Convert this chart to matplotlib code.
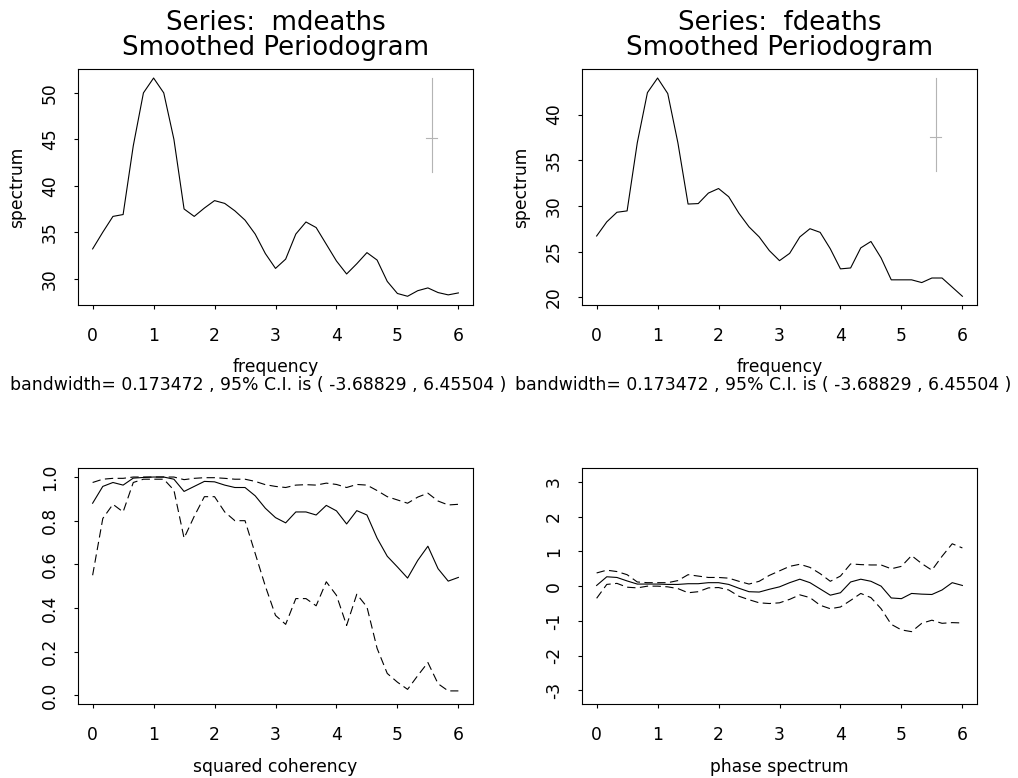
import matplotlib
matplotlib.use('Agg')
import matplotlib.pyplot as plt
import numpy as np

# frequencies k/6, k = 0..36
freq = np.arange(37) / 6.0

spec_m = [33.2, 35.0, 36.7, 36.9, 44.3, 50.0, 51.6, 50.0, 45.0, 37.5,
          36.7, 37.6, 38.4, 38.1, 37.3, 36.3, 34.8, 32.7, 31.1, 32.1,
          34.8, 36.1, 35.5, 33.7, 31.9, 30.5, 31.6, 32.8, 32.0, 29.7,
          28.4, 28.1, 28.7, 29.0, 28.5, 28.25, 28.46]
spec_f = [26.7, 28.25, 29.3, 29.45, 36.9, 42.4, 44.0, 42.3, 36.9, 30.2,
          30.25, 31.4, 31.9, 31.0, 29.2, 27.7, 26.6, 25.1, 24.0, 24.8,
          26.6, 27.5, 27.1, 25.3, 23.1, 23.2, 25.4, 26.1, 24.3, 21.9,
          21.9, 21.9, 21.6, 22.1, 22.1, 21.1, 20.1]

coh = [0.88, 0.957, 0.975, 0.963, 0.995, 0.998, 1.0, 1.0, 0.99, 0.934,
       0.957, 0.98, 0.978, 0.963, 0.952, 0.952, 0.914, 0.857, 0.814, 0.79,
       0.84, 0.84, 0.826, 0.87, 0.845, 0.785, 0.846, 0.826, 0.72, 0.637,
       0.588, 0.537, 0.618, 0.683, 0.58, 0.523, 0.54]
coh_hi = [0.975, 0.99, 0.994, 0.994, 1.0, 1.0, 1.0, 1.0, 1.0, 0.988,
          0.994, 0.997, 0.997, 0.994, 0.99, 0.99, 0.98, 0.965, 0.957, 0.952,
          0.963, 0.965, 0.963, 0.972, 0.966, 0.952, 0.966, 0.963, 0.938, 0.91,
          0.895, 0.88, 0.908, 0.926, 0.89, 0.872, 0.875]
coh_lo = [0.55, 0.81, 0.875, 0.84, 0.975, 0.99, 0.99, 0.99, 0.94, 0.72,
          0.82, 0.91, 0.91, 0.84, 0.8, 0.8, 0.65, 0.5, 0.366, 0.325,
          0.443, 0.443, 0.41, 0.52, 0.458, 0.32, 0.463, 0.405, 0.215, 0.1,
          0.06, 0.027, 0.09, 0.15, 0.053, 0.02, 0.02]

phase = [0.02, 0.27, 0.25, 0.15, 0.06, 0.06, 0.06, 0.05, 0.05, 0.07,
         0.07, 0.1, 0.1, 0.05, -0.06, -0.16, -0.17, -0.09, -0.02, 0.1,
         0.2, 0.1, -0.08, -0.26, -0.19, 0.12, 0.2, 0.14, 0.0, -0.34,
         -0.36, -0.21, -0.23, -0.24, -0.11, 0.1, 0.02]
phase_hi = [0.38, 0.46, 0.42, 0.33, 0.12, 0.1, 0.1, 0.1, 0.16, 0.33,
            0.29, 0.25, 0.25, 0.23, 0.14, 0.06, 0.14, 0.31, 0.44, 0.57,
            0.63, 0.54, 0.36, 0.14, 0.29, 0.64, 0.62, 0.61, 0.61, 0.5,
            0.57, 0.88, 0.65, 0.46, 0.86, 1.22, 1.1]
phase_lo = [-0.35, 0.05, 0.08, -0.03, -0.05, 0.0, 0.0, -0.02, -0.07, -0.19,
            -0.16, -0.05, -0.04, -0.11, -0.29, -0.39, -0.48, -0.5, -0.48, -0.38,
            -0.25, -0.33, -0.55, -0.65, -0.6, -0.41, -0.21, -0.33, -0.65, -1.1,
            -1.26, -1.31, -1.07, -0.98, -1.07, -1.05, -1.06]

bandwidth = 0.173472
ci_lo, ci_hi = -3.68829, 6.45504
ci_x = 5.56
sub_text = 'bandwidth= 0.173472 , 95% C.I. is ( -3.68829 , 6.45504 )'

W, H = 1018, 778
PT = 0.72  # points per pixel at dpi 100

plt.rcParams['font.family'] = 'DejaVu Sans'
plt.rcParams['axes.unicode_minus'] = False
fig = plt.figure(figsize=(W / 100, H / 100), dpi=100)

lab_fs = 12.3
sub_fs = 12.4
title_fs = 18.7
lw = 0.8
dash = (7.5, 4)


def make_axes(left, top, right, bottom):
    ax = fig.add_axes([left / W, 1 - bottom / H, (right - left) / W, (bottom - top) / H])
    for s in ax.spines.values():
        s.set_linewidth(0.8)
    ax.set_xlim(-0.24, 6.24)
    ax.set_xticks(range(7))
    ax.tick_params(direction='out', length=4 * PT, width=0.8, labelsize=lab_fs)
    ax.tick_params(axis='x', pad=17.5 * PT)
    ax.tick_params(axis='y', pad=15 * PT, labelrotation=90)
    return ax


def px_text(ax, txt, dy, fs, x=0.5):
    ax.annotate(txt, xy=(x, 1 if dy > 0 else 0), xycoords='axes fraction',
                xytext=(0, dy * PT), textcoords='offset points',
                ha='center', va='baseline', fontsize=fs)


def spec_panel(ax, spec, name):
    ax.plot(freq, spec, color='black', lw=lw)
    center = max(spec) - ci_hi
    ax.plot([ci_x, ci_x], [center + ci_lo, center + ci_hi], color='#b4b4b4', lw=lw)
    ax.plot([ci_x - bandwidth / 2, ci_x + bandwidth / 2], [center, center],
            color='#b4b4b4', lw=lw)
    ax.margins(y=0.04)
    px_text(ax, 'Series:  ' + name, 39.3, title_fs)
    px_text(ax, 'Smoothed Periodogram', 14.3, title_fs)
    px_text(ax, 'frequency', -67, lab_fs)
    ax.annotate('spectrum', xy=(0, 0.5), xycoords='axes fraction',
                xytext=(-61 * PT, 0), textcoords='offset points',
                ha='center', va='center', rotation=90, fontsize=lab_fs)


ax1 = make_axes(78, 69.3, 473, 305)
ax1.set_yticks([30, 35, 40, 45, 50])
spec_panel(ax1, spec_m, 'mdeaths')

ax2 = make_axes(582, 69.3, 977, 305)
ax2.set_yticks([20, 25, 30, 35, 40])
spec_panel(ax2, spec_f, 'fdeaths')

fig.text(258.5 / W, 1 - 390 / H, sub_text, ha='center', va='baseline', fontsize=sub_fs)
fig.text(763 / W, 1 - 390 / H, sub_text, ha='center', va='baseline', fontsize=sub_fs)

ax3 = make_axes(78, 468.3, 473, 704)
ax3.plot(freq, coh, color='black', lw=lw)
ax3.plot(freq, coh_hi, color='black', lw=lw, dashes=dash)
ax3.plot(freq, coh_lo, color='black', lw=lw, dashes=dash)
ax3.set_ylim(-0.04, 1.04)
ax3.set_yticks([0, 0.2, 0.4, 0.6, 0.8, 1.0])
ax3.set_yticklabels(['0.0', '0.2', '0.4', '0.6', '0.8', '1.0'])
px_text(ax3, 'squared coherency', -67.7, lab_fs)

ax4 = make_axes(582, 468.3, 977, 704)
ax4.plot(freq, phase, color='black', lw=lw)
ax4.plot(freq, phase_hi, color='black', lw=lw, dashes=dash)
ax4.plot(freq, phase_lo, color='black', lw=lw, dashes=dash)
ax4.set_ylim(-np.pi * 1.08, np.pi * 1.08)
ax4.set_yticks(range(-3, 4))
px_text(ax4, 'phase spectrum', -67.7, lab_fs)

for ax in (ax1, ax2, ax3, ax4):
    for lab in ax.get_yticklabels():
        lab.set_va('center')

fig.savefig('out.png', dpi=100, facecolor='white')
